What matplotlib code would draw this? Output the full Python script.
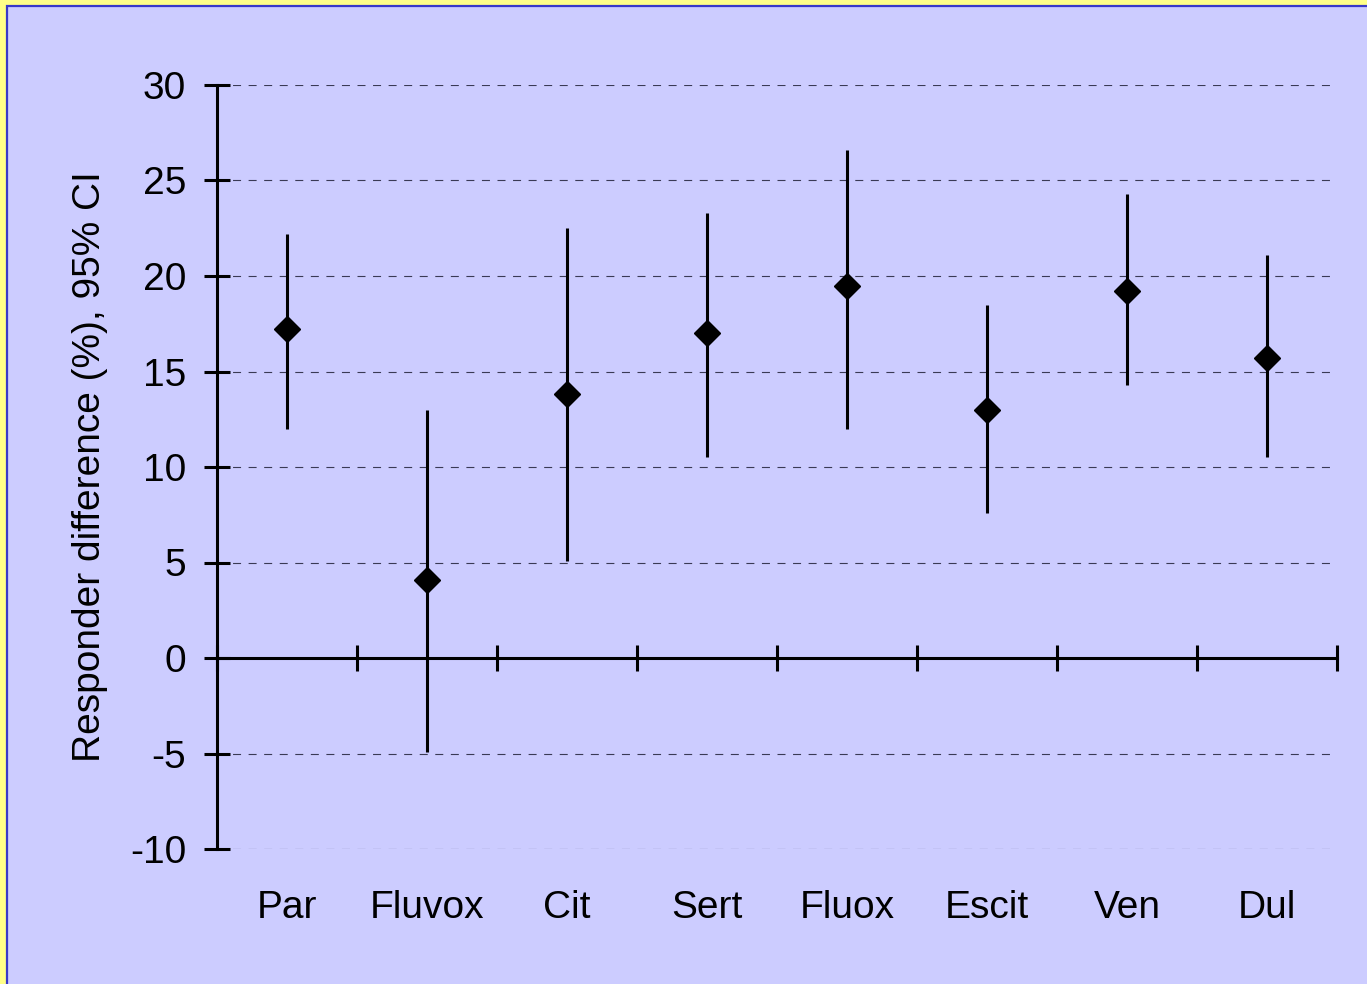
import numpy as np
import matplotlib
matplotlib.use("Agg")
from matplotlib import pyplot as plt
from matplotlib.patches import Rectangle

# drugs and responder difference (%) with 95% CI
drugs = ["Par", "Fluvox", "Cit", "Sert", "Fluox", "Escit", "Ven", "Dul"]
diff = [17.2, 4.1, 13.8, 17.0, 19.5, 13.0, 19.2, 15.7]
ci_low = [12.0, -4.9, 5.1, 10.5, 12.0, 7.6, 14.3, 10.5]
ci_high = [22.2, 13.0, 22.5, 23.3, 26.6, 18.5, 24.3, 21.1]

plt.rcParams['font.family'] = ['Liberation Sans', 'DejaVu Sans']
plt.rcParams['font.size'] = 28
plt.rcParams['axes.unicode_minus'] = False

W, H = 1367, 984
fig = plt.figure(figsize=(W / 100, H / 100), dpi=100)
fig.patch.set_facecolor('#FFFF88')
# lavender panel with blue edge, cut off at right/bottom
fig.patches.append(Rectangle((7 / W, -0.05), 1.1, 1 - 5.5 / H + 0.05,
                             transform=fig.transFigure, facecolor='#CCCCFF',
                             edgecolor='#3838C8', linewidth=1.6, zorder=-5))

ax = fig.add_axes([217 / W, 1 - 849 / H, 1120 / W, 764 / H])
ax.set_facecolor('none')
ax.set_zorder(2)

x = np.arange(len(drugs))
d = np.array(diff)
yerr = [d - np.array(ci_low), np.array(ci_high) - d]
ax.errorbar(x, d, yerr=yerr, fmt='D', color='black', ecolor='black',
            elinewidth=2.2, capsize=0, markersize=13.5, zorder=5)

ax.set_xlim(-0.5, len(drugs) - 0.5)
ax.set_ylim(-10, 30)
ax.set_yticks(np.arange(-10, 31, 5))

# dashed grid, skip zero (axis line there)
for yv in np.arange(-10, 31, 5):
    if yv != 0:
        ax.axhline(yv, color='#3a3a55', linewidth=0.8,
                   linestyle=(0, (7.2, 6.8)), zorder=1)

for s in ['top', 'right']:
    ax.spines[s].set_visible(False)
ax.spines['bottom'].set_position(('data', 0))
ax.spines['bottom'].set_linewidth(2.2)
ax.spines['left'].set_linewidth(2.2)

ax.set_xticks(np.arange(-0.5, len(drugs), 1.0))
ax.set_xticklabels([])
ax.tick_params(axis='x', direction='inout', length=18.5, width=2.2)
ax.tick_params(axis='y', direction='inout', length=18.5, width=2.2, pad=13)

for i, name in enumerate(drugs):
    ax.text(i, -13.1, name, ha='center', va='center', fontsize=28)

ax.set_ylabel("Responder difference (%), 95% CI", fontsize=28)
ax.yaxis.set_label_coords(-0.097, 0.5)

fig.savefig("out.png", dpi=100, facecolor=fig.get_facecolor())
